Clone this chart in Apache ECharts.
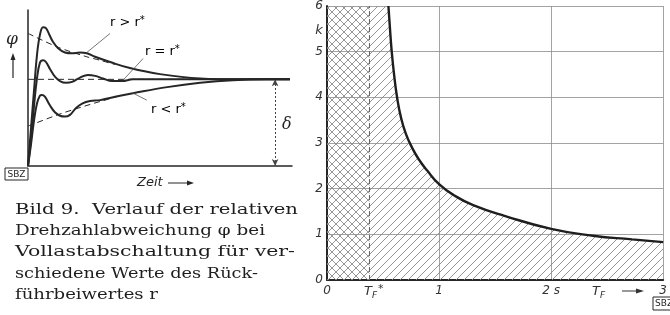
<!DOCTYPE html>
<html>
<head>
<meta charset="utf-8">
<script src="https://cdn.jsdelivr.net/npm/echarts@6/dist/echarts.min.js"></script>
<style>
  html, body { margin: 0; padding: 0; background: #fff; }
  #chart { width: 670px; height: 315px; }
</style>
</head>
<body>
<div id="chart"></div>
<script>
// Left sketch: phi over time (schematic units, x 0..100, equilibrium at 1)
const curveHigh = [[0,0],[1.1,0.42],[2.3,0.88],[3.4,1.28],[4.5,1.51],[5.7,1.6],[6.8,1.59],[8,1.52],[9.5,1.43],[11.4,1.36],[14,1.31],[16.7,1.3],[19.7,1.31],[22.3,1.3],[25.4,1.26],[31.1,1.2],[38.6,1.13],[50,1.06],[65.2,1.01],[80.3,1.0],[99.2,1.0]];
const curveEqual = [[0,0],[1.1,0.3],[2.3,0.7],[3.4,1.01],[4.5,1.19],[5.7,1.22],[6.8,1.2],[8.3,1.12],[10.2,1.03],[12.1,0.98],[14.4,0.96],[16.7,0.97],[19.7,1.02],[22.7,1.05],[25.4,1.04],[28.4,1.01],[31.8,0.98],[35.6,0.98],[39.8,1.0],[99.2,1.0]];
const curveLow = [[0,0],[1.1,0.24],[2.3,0.53],[3.4,0.72],[4.5,0.81],[5.3,0.82],[6.4,0.8],[8.3,0.7],[10.2,0.62],[12.1,0.58],[14,0.57],[15.9,0.59],[18.2,0.67],[20.5,0.72],[23.5,0.75],[27.3,0.76],[33,0.8],[39.8,0.84],[52.7,0.91],[65.2,0.96],[77.7,0.99],[90.5,1.0],[99.2,1.0]];
const asymHigh = [[0,1.53],[11.4,1.37],[22.3,1.26],[27.3,1.22],[33,1.17]];
const asymLow = [[0,0.46],[12.1,0.6],[23.5,0.71],[33.7,0.8]];
const steadyLine = [[0,1],[99.2,1]];
const deltaX = 93.6;

// Right chart: k over T_F
const tfStar = 0.38;
const curveT = [0.548, 0.561, 0.578, 0.6, 0.626, 0.661, 0.704, 0.757, 0.817, 0.896, 1.0, 1.13, 1.304, 1.591, 2.0, 2.374, 2.722, 3.0];
const curveK = [6, 5.54, 4.99, 4.47, 3.99, 3.55, 3.2, 2.91, 2.65, 2.39, 2.1, 1.86, 1.64, 1.4, 1.12, 0.97, 0.89, 0.83];
const xTickLabels = { 0: "0", 1: "1", 2: "2 s", 3: "3" };

// Caption lines and the x where each one ends
const captionLines = [
  "Bild 9.  Verlauf der relativen",
  "Drehzahlabweichung φ bei",
  "Vollastabschaltung für ver-",
  "schiedene Werte des Rück-",
  "führbeiwertes r",
];
const captionEnds = [298, 265, 295, 258, 158];

const ink = "#262626";

function makePattern(cross) {
  const c = document.createElement("canvas");
  c.width = 8;
  c.height = 8;
  const g = c.getContext("2d");
  g.strokeStyle = "#8a8a8a";
  g.lineWidth = 0.9;
  g.beginPath();
  g.moveTo(0, 8); g.lineTo(8, 0);
  g.moveTo(-1, 1); g.lineTo(1, -1);
  g.moveTo(7, 9); g.lineTo(9, 7);
  if (cross) {
    g.moveTo(0, 0); g.lineTo(8, 8);
    g.moveTo(-1, 7); g.lineTo(1, 9);
    g.moveTo(7, -1); g.lineTo(9, 1);
  }
  g.stroke();
  return { image: c, repeat: "repeat" };
}

const hatch = makePattern(false);
const crossHatch = makePattern(true);

// caption: stretch each line to the width of the printed one
const measure = document.createElement("canvas").getContext("2d");
const captionFont = '14px "DejaVu Serif"';
measure.font = captionFont;
const captionGraphics = captionLines.map((line, i) => {
  const w = measure.measureText(line).width;
  return {
    type: "text",
    x: 15,
    y: 210 + i * 21.3,
    scaleX: (captionEnds[i] - 15) / w,
    style: { text: line, font: captionFont, fill: "#1e1e1e", verticalAlign: "middle" },
  };
});

const chart = echarts.init(document.getElementById("chart"));

const labelRich = {
  a: { fontFamily: "DejaVu Sans", fontSize: 13, color: ink },
  s: { fontFamily: "DejaVu Sans", fontSize: 10, color: ink, verticalAlign: "top", padding: [0, 0, 6, 0] },
};

const curveData = curveT.map((t, i) => [t, curveK[i]]);

const option = {
  backgroundColor: "#fff",
  animation: false,
  grid: [
    { left: 28, top: 10, width: 264, height: 156 },
    { left: 327, top: 6, width: 345, height: 274 },
  ],
  xAxis: [
    {
      gridIndex: 0, type: "value", min: 0, max: 100,
      axisLine: { lineStyle: { color: ink, width: 1.5 } },
      axisTick: { show: false }, axisLabel: { show: false }, splitLine: { show: false },
    },
    {
      gridIndex: 1, type: "value", min: 0, max: 3, interval: 1,
      axisLine: { lineStyle: { color: ink, width: 2 } },
      axisTick: { show: false },
      axisLabel: {
        margin: 5, color: "#333", fontStyle: "italic", fontFamily: "DejaVu Sans", fontSize: 12,
        formatter: (v) => xTickLabels[v] || "",
      },
      splitLine: { show: true, lineStyle: { color: "#8c8c8c", width: 0.8 } },
    },
  ],
  yAxis: [
    {
      gridIndex: 0, type: "value", min: 0, max: 1.8,
      axisLine: { show: true, lineStyle: { color: ink, width: 1.5 } },
      axisTick: { show: false }, axisLabel: { show: false }, splitLine: { show: false },
    },
    {
      gridIndex: 1, type: "value", min: 0, max: 6, interval: 1,
      axisLine: { show: true, lineStyle: { color: ink, width: 2 } },
      axisTick: { show: false },
      axisLabel: { margin: 4, color: "#333", fontStyle: "italic", fontFamily: "DejaVu Sans", fontSize: 12 },
      splitLine: { show: true, lineStyle: { color: "#8c8c8c", width: 0.8 } },
    },
  ],
  series: [
    // left sketch
    {
      type: "line", xAxisIndex: 0, yAxisIndex: 0, data: steadyLine, symbol: "none",
      lineStyle: { color: ink, width: 1, type: [6, 4] },
      markLine: {
        silent: true, symbol: ["arrow", "arrow"], symbolSize: [5, 7],
        label: { show: false },
        lineStyle: { color: "#444", width: 1, type: [2, 2] },
        data: [[{ coord: [deltaX, 0] }, { coord: [deltaX, 1] }]],
      },
    },
    { type: "line", xAxisIndex: 0, yAxisIndex: 0, data: asymHigh, symbol: "none", smooth: 0.3,
      lineStyle: { color: ink, width: 1, type: [6, 4] } },
    { type: "line", xAxisIndex: 0, yAxisIndex: 0, data: asymLow, symbol: "none", smooth: 0.3,
      lineStyle: { color: ink, width: 1, type: [6, 4] } },
    { type: "line", xAxisIndex: 0, yAxisIndex: 0, data: curveHigh, symbol: "none", smooth: 0.4,
      lineStyle: { color: ink, width: 2 } },
    { type: "line", xAxisIndex: 0, yAxisIndex: 0, data: curveEqual, symbol: "none", smooth: 0.4,
      lineStyle: { color: ink, width: 2 } },
    { type: "line", xAxisIndex: 0, yAxisIndex: 0, data: curveLow, symbol: "none", smooth: 0.4,
      lineStyle: { color: ink, width: 2 } },
    // leader lines to the curve labels
    { type: "line", xAxisIndex: 0, yAxisIndex: 0, data: [[31.1, 1.53], [22.3, 1.31]], symbol: "none",
      lineStyle: { color: "#555", width: 0.8 } },
    { type: "line", xAxisIndex: 0, yAxisIndex: 0, data: [[43.6, 1.24], [36, 0.99]], symbol: "none",
      lineStyle: { color: "#555", width: 0.8 } },
    { type: "line", xAxisIndex: 0, yAxisIndex: 0, data: [[45, 0.76], [39.8, 0.84]], symbol: "none",
      lineStyle: { color: "#555", width: 0.8 } },

    // right chart: hatched area under the curve
    {
      type: "line", xAxisIndex: 1, yAxisIndex: 1, z: 1, symbol: "none",
      smooth: 0.5,
      data: curveData,
      lineStyle: { width: 0 },
      areaStyle: { color: hatch, opacity: 1 },
      markArea: {
        silent: true,
        data: [
          [{ xAxis: 0, yAxis: 0, itemStyle: { color: crossHatch } }, { xAxis: tfStar, yAxis: 6 }],
          [{ xAxis: tfStar, yAxis: 0, itemStyle: { color: hatch } }, { xAxis: curveT[0], yAxis: 6 }],
        ],
      },
      markLine: {
        silent: true, symbol: "none", label: { show: false },
        lineStyle: { color: "#666", width: 1, type: [5, 3] },
        data: [{ xAxis: tfStar }],
      },
    },
    {
      type: "line", xAxisIndex: 1, yAxisIndex: 1, z: 3, symbol: "none",
      smooth: 0.5,
      data: curveData,
      lineStyle: { color: "#1e1e1e", width: 2.4 },
    },
  ],
  graphic: [
    // left sketch annotations
    { type: "text", x: 110, y: 23, style: { text: "{a|r > r}{s|*}", rich: labelRich, verticalAlign: "middle" } },
    { type: "text", x: 145, y: 52, style: { text: "{a|r = r}{s|*}", rich: labelRich, verticalAlign: "middle" } },
    { type: "text", x: 151, y: 110, style: { text: "{a|r < r}{s|*}", rich: labelRich, verticalAlign: "middle" } },
    { type: "text", x: 282, y: 125, style: { text: "δ", font: 'italic 16px "DejaVu Serif"', fill: ink, verticalAlign: "middle" } },
    { type: "text", x: 6, y: 40, style: { text: "φ", font: 'italic 17px "DejaVu Serif"', fill: ink, verticalAlign: "middle" } },
    { type: "line", shape: { x1: 13, y1: 78, x2: 13, y2: 57 }, style: { stroke: ink, lineWidth: 1.2 } },
    { type: "polygon", shape: { points: [[13, 53], [10.5, 60], [15.5, 60]] }, style: { fill: ink } },
    { type: "text", x: 137, y: 183, style: { text: "Zeit", font: 'italic 13px "DejaVu Sans"', fill: ink, verticalAlign: "middle" } },
    { type: "line", shape: { x1: 168, y1: 183, x2: 190, y2: 183 }, style: { stroke: ink, lineWidth: 1 } },
    { type: "polygon", shape: { points: [[194, 183], [187, 180.5], [187, 185.5]] }, style: { fill: ink } },
    { type: "rect", shape: { x: 5, y: 168, width: 23, height: 12 }, style: { fill: "#fff", stroke: ink, lineWidth: 1 } },
    { type: "text", x: 16.5, y: 174.5, style: { text: "SBZ", font: '9px "DejaVu Sans"', fill: ink, align: "center", verticalAlign: "middle" } },

    // right chart annotations
    { type: "text", x: 319, y: 31, style: { text: "k", font: 'italic 13px "DejaVu Sans"', fill: "#333", align: "center", verticalAlign: "middle" } },
    { type: "text", x: 364, y: 292, style: { text: "T{f|F}{s|*}", font: 'italic 13px "DejaVu Sans"', fill: "#333", verticalAlign: "middle",
      rich: { f: { fontStyle: "italic", fontSize: 9, fontFamily: "DejaVu Sans", color: "#333", padding: [8, 0, 0, 0] },
              s: { fontSize: 11, fontFamily: "DejaVu Sans", color: "#333", padding: [0, 0, 6, 1] } } } },
    { type: "text", x: 592, y: 292, style: { text: "T{f|F}", font: 'italic 13px "DejaVu Sans"', fill: "#333", verticalAlign: "middle",
      rich: { f: { fontStyle: "italic", fontSize: 9, fontFamily: "DejaVu Sans", color: "#333", padding: [8, 0, 0, 0] } } } },
    { type: "line", shape: { x1: 622, y1: 291, x2: 639, y2: 291 }, style: { stroke: "#333", lineWidth: 1 } },
    { type: "polygon", shape: { points: [[644, 291], [636, 288.5], [636, 293.5]] }, style: { fill: "#333" } },
    { type: "rect", shape: { x: 653, y: 297, width: 22, height: 13 }, style: { fill: "#fff", stroke: ink, lineWidth: 1 } },
    { type: "text", x: 655, y: 303.5, style: { text: "SBZ", font: '9px "DejaVu Sans"', fill: ink, verticalAlign: "middle" } },
  ].concat(captionGraphics),
};

chart.setOption(option);
</script>
</body>
</html>
